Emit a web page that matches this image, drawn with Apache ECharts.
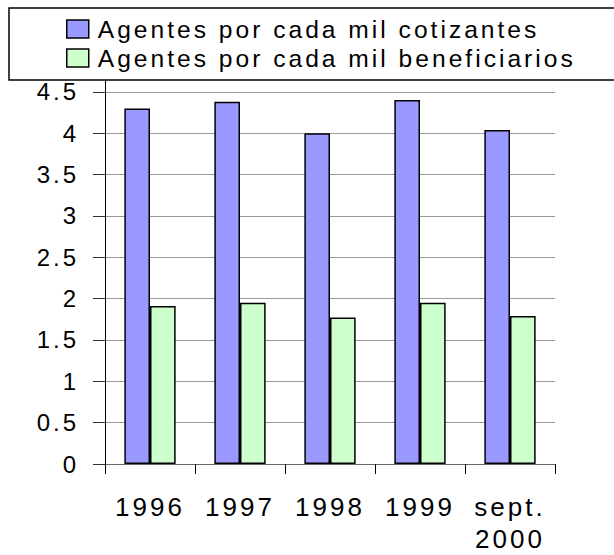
<!DOCTYPE html>
<html>
<head>
<meta charset="utf-8">
<script src="https://cdn.jsdelivr.net/npm/echarts@6/dist/echarts.min.js"></script>
<style>
  html, body { margin: 0; padding: 0; background: #fff; }
  #chart { width: 614px; height: 555px; letter-spacing: 3px; }
</style>
</head>
<body>
<div id="chart"></div>
<script>
const categories = ['1996', '1997', '1998', '1999', 'sept.\n2000'];
const seriesNames = ['Agentes por cada mil cotizantes', 'Agentes por cada mil beneficiarios'];
const cotizantes = [4.3, 4.38, 4.0, 4.4, 4.04];
const beneficiarios = [1.91, 1.95, 1.77, 1.95, 1.79];
const colors = ['#9999FF', '#CCFFCC'];

const chart = echarts.init(document.getElementById('chart'), null, { renderer: 'svg' });
const font = 'Liberation Sans, Arial, sans-serif';
chart.setOption({
  animation: false,
  backgroundColor: '#fff',
  grid: { left: 105, right: 59, top: 50.5, bottom: 91, containLabel: false, outerBoundsMode: 'none' },
  legend: {
    orient: 'vertical',
    left: 9, top: 8,
    z: 20,
    icon: 'rect',
    itemWidth: 22, itemHeight: 18,
    itemGap: 1,
    padding: [7, 180, 8, 57],
    backgroundColor: '#fff',
    borderColor: '#000',
    borderWidth: 1.5,
    borderRadius: 0,
    textStyle: { fontFamily: font, fontSize: 24.6, color: '#000', lineHeight: 28, padding: [0, 0, 0, 4] },
    data: seriesNames.map((n, i) => ({ name: n, itemStyle: { color: colors[i], borderColor: '#000', borderWidth: 1.5 } }))
  },
  xAxis: {
    type: 'category',
    data: categories,
    boundaryGap: true,
    axisLine: { lineStyle: { color: '#666', width: 1 } },
    axisTick: { show: true, length: 10, lineStyle: { color: '#000' } },
    axisLabel: { fontFamily: font, fontSize: 26, color: '#000', margin: 27, lineHeight: 32, interval: 0 }
  },
  yAxis: {
    type: 'value',
    min: 0, max: 5, interval: 0.5,
    axisLine: { show: true, lineStyle: { color: '#000', width: 1 } },
    axisTick: { show: true, length: 12, lineStyle: { color: '#333' } },
    splitLine: { show: true, lineStyle: { color: '#999', width: 1 } },
    axisLabel: {
      fontFamily: font, fontSize: 24, color: '#000', margin: 26,
      formatter: v => (v >= 5 ? '' : String(v))
    }
  },
  series: [
    {
      name: seriesNames[0], type: 'bar', data: cotizantes,
      barGap: '0%', barCategoryGap: '43%',
      itemStyle: { color: colors[0], borderColor: '#000', borderWidth: 1.5 }
    },
    {
      name: seriesNames[1], type: 'bar', data: beneficiarios,
      barGap: '0%', barCategoryGap: '43%',
      itemStyle: { color: colors[1], borderColor: '#000', borderWidth: 1.5 }
    }
  ]
});
</script>
</body>
</html>
